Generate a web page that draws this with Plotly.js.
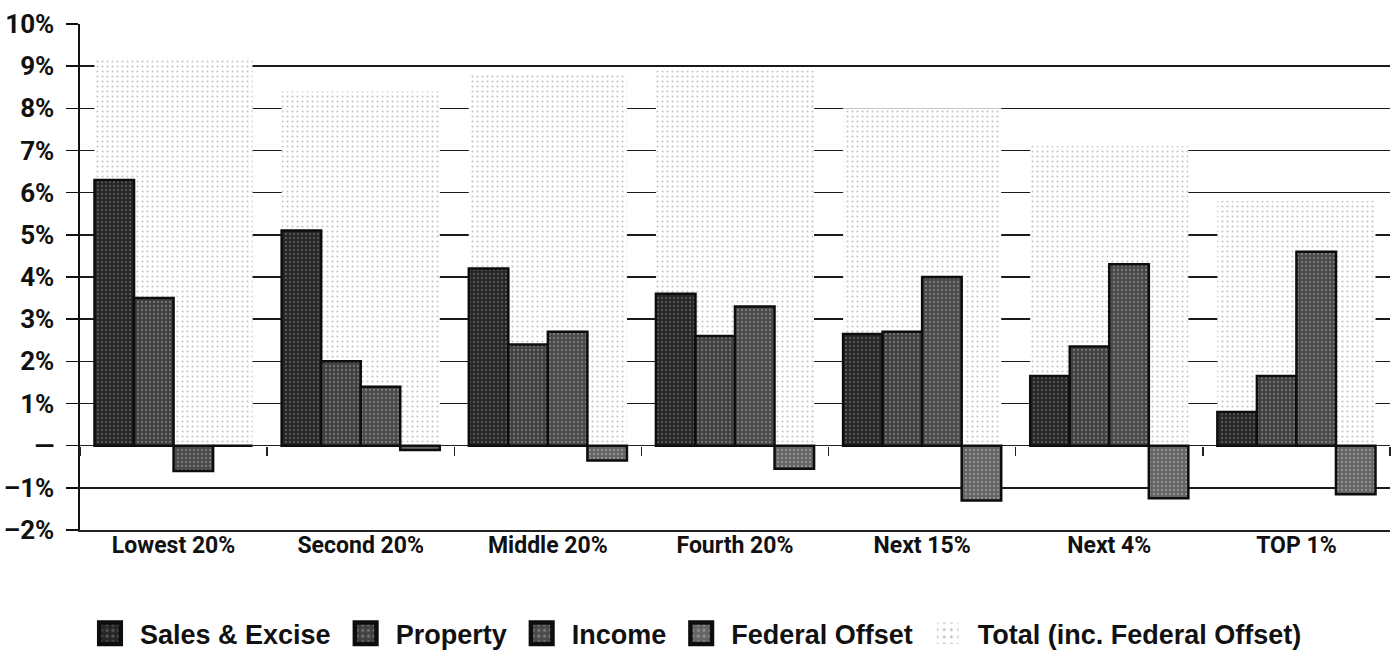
<!DOCTYPE html>
<html>
<head>
<meta charset="utf-8">
<script src="https://cdn.plot.ly/plotly-3.0.1.min.js"></script>
<style>
html,body{margin:0;padding:0;background:#fff;}
#chart{width:1393px;height:661px;}
</style>
</head>
<body>
<div id="chart"></div>
<script>
const categories = ["Lowest 20%", "Second 20%", "Middle 20%", "Fourth 20%", "Next 15%", "Next 4%", "TOP 1%"];
const salesExcise   = [6.3, 5.1, 4.2, 3.6, 2.65, 1.65, 0.8];
const property      = [3.5, 2.0, 2.4, 2.6, 2.7, 2.35, 1.65];
const income        = [-0.6, 1.4, 2.7, 3.3, 4.0, 4.3, 4.6];
const federalOffset = [0, -0.1, -0.35, -0.55, -1.3, -1.25, -1.15];
const total         = [9.2, 8.4, 8.8, 8.9, 8.0, 7.1, 5.8];
const yTickVals   = [-2, -1, 0, 1, 2, 3, 4, 5, 6, 7, 8, 9, 10];
const yTickLabels = ["–2%", "–1%", "—", "1%", "2%", "3%", "4%", "5%", "6%", "7%", "8%", "9%", "10%"];

const GROUP = 0.845, SLOT = GROUP / 4;
const narrow = "Liberation Sans Narrow, Arial Narrow, Roboto, sans-serif";
const wide = "Liberation Sans, Arial, sans-serif";

function barTrace(name, y, idx, color, fg, rank) {
  return {
    type: "bar", name: name, x: categories, y: y,
    width: SLOT, offset: -GROUP / 2 + idx * SLOT,
    marker: {
      color: color,
      line: {color: "#0d0d0d", width: 2.5},
      pattern: {shape: ".", fgcolor: fg, bgcolor: color, size: 4, solidity: 0.25, fillmode: "overlay"}
    },
    legendrank: rank, hoverinfo: "skip"
  };
}

const traces = [
  {
    type: "bar", name: "Total (inc. Federal Offset)", x: categories, y: total,
    width: GROUP, offset: -GROUP / 2,
    marker: {
      color: "#ffffff", line: {width: 0},
      pattern: {shape: ".", fgcolor: "#8a8a8a", bgcolor: "#ffffff", size: 5, solidity: 0.15, fillmode: "overlay"}
    },
    legendrank: 5, hoverinfo: "skip"
  },
  barTrace("Sales & Excise", salesExcise, 0, "#262626", "#8a8a8a", 1),
  barTrace("Property", property, 1, "#404040", "#a8a8a8", 2),
  barTrace("Income", income, 2, "#4a4a4a", "#b0b0b0", 3),
  barTrace("Federal Offset", federalOffset, 3, "#646464", "#c4c4c4", 4),
  {
    type: "scatter", mode: "markers", x: categories, y: categories.map(() => null),
    xaxis: "x2", showlegend: false, hoverinfo: "skip", marker: {opacity: 0}
  }
];

const layout = {
  width: 1393, height: 661,
  margin: {l: 80, r: 3, t: 24, b: 127},
  paper_bgcolor: "#fff", plot_bgcolor: "#fff",
  barmode: "overlay",
  showlegend: true,
  legend: {
    orientation: "h", x: 0.0, xanchor: "left", y: -0.205, yanchor: "middle",
    font: {family: wide, size: 27, color: "#111", weight: "bold"},
    itemwidth: 50, traceorder: "normal"
  },
  xaxis: {
    type: "category", categoryarray: categories, range: [-0.5, 6.5],
    showgrid: false, zeroline: false,
    showline: true, linecolor: "#222", linewidth: 1.5,
    ticks: "", ticklen: 0, ticklabelstandoff: -6,
    tickfont: {family: narrow, size: 23, color: "#111", weight: "bold"},
    fixedrange: true
  },
  xaxis2: {
    type: "category", categoryarray: categories, range: [-0.5, 6.5],
    overlaying: "x", anchor: "free", position: 2 / 12,
    showgrid: false, zeroline: false, showline: false,
    ticks: "outside", tickson: "boundaries", ticklen: 9, tickwidth: 1.5, tickcolor: "#222",
    showticklabels: false, fixedrange: true
  },
  yaxis: {
    range: [-2, 10], tickvals: yTickVals, ticktext: yTickLabels,
    showgrid: true, gridcolor: "#1a1a1a", gridwidth: 1.5,
    zeroline: true, zerolinecolor: "#222", zerolinewidth: 1.5,
    showline: true, linecolor: "#111", linewidth: 2.5,
    ticks: "outside", ticklen: 12, tickwidth: 1.5, tickcolor: "#111",
    ticklabelstandoff: 6,
    tickfont: {family: narrow, size: 26, color: "#111", weight: "bold"},
    fixedrange: true
  }
};

Plotly.newPlot("chart", traces, layout, {staticPlot: true, displayModeBar: false}).then(function (gd) {
  // enlarge the legend swatches to the reference's larger squares
  gd.querySelectorAll(".legendpoints path").forEach(function (p) {
    const t = p.getAttribute("transform") || "";
    p.setAttribute("transform", t + " scale(1.8)");
  });
});
</script>
</body>
</html>
